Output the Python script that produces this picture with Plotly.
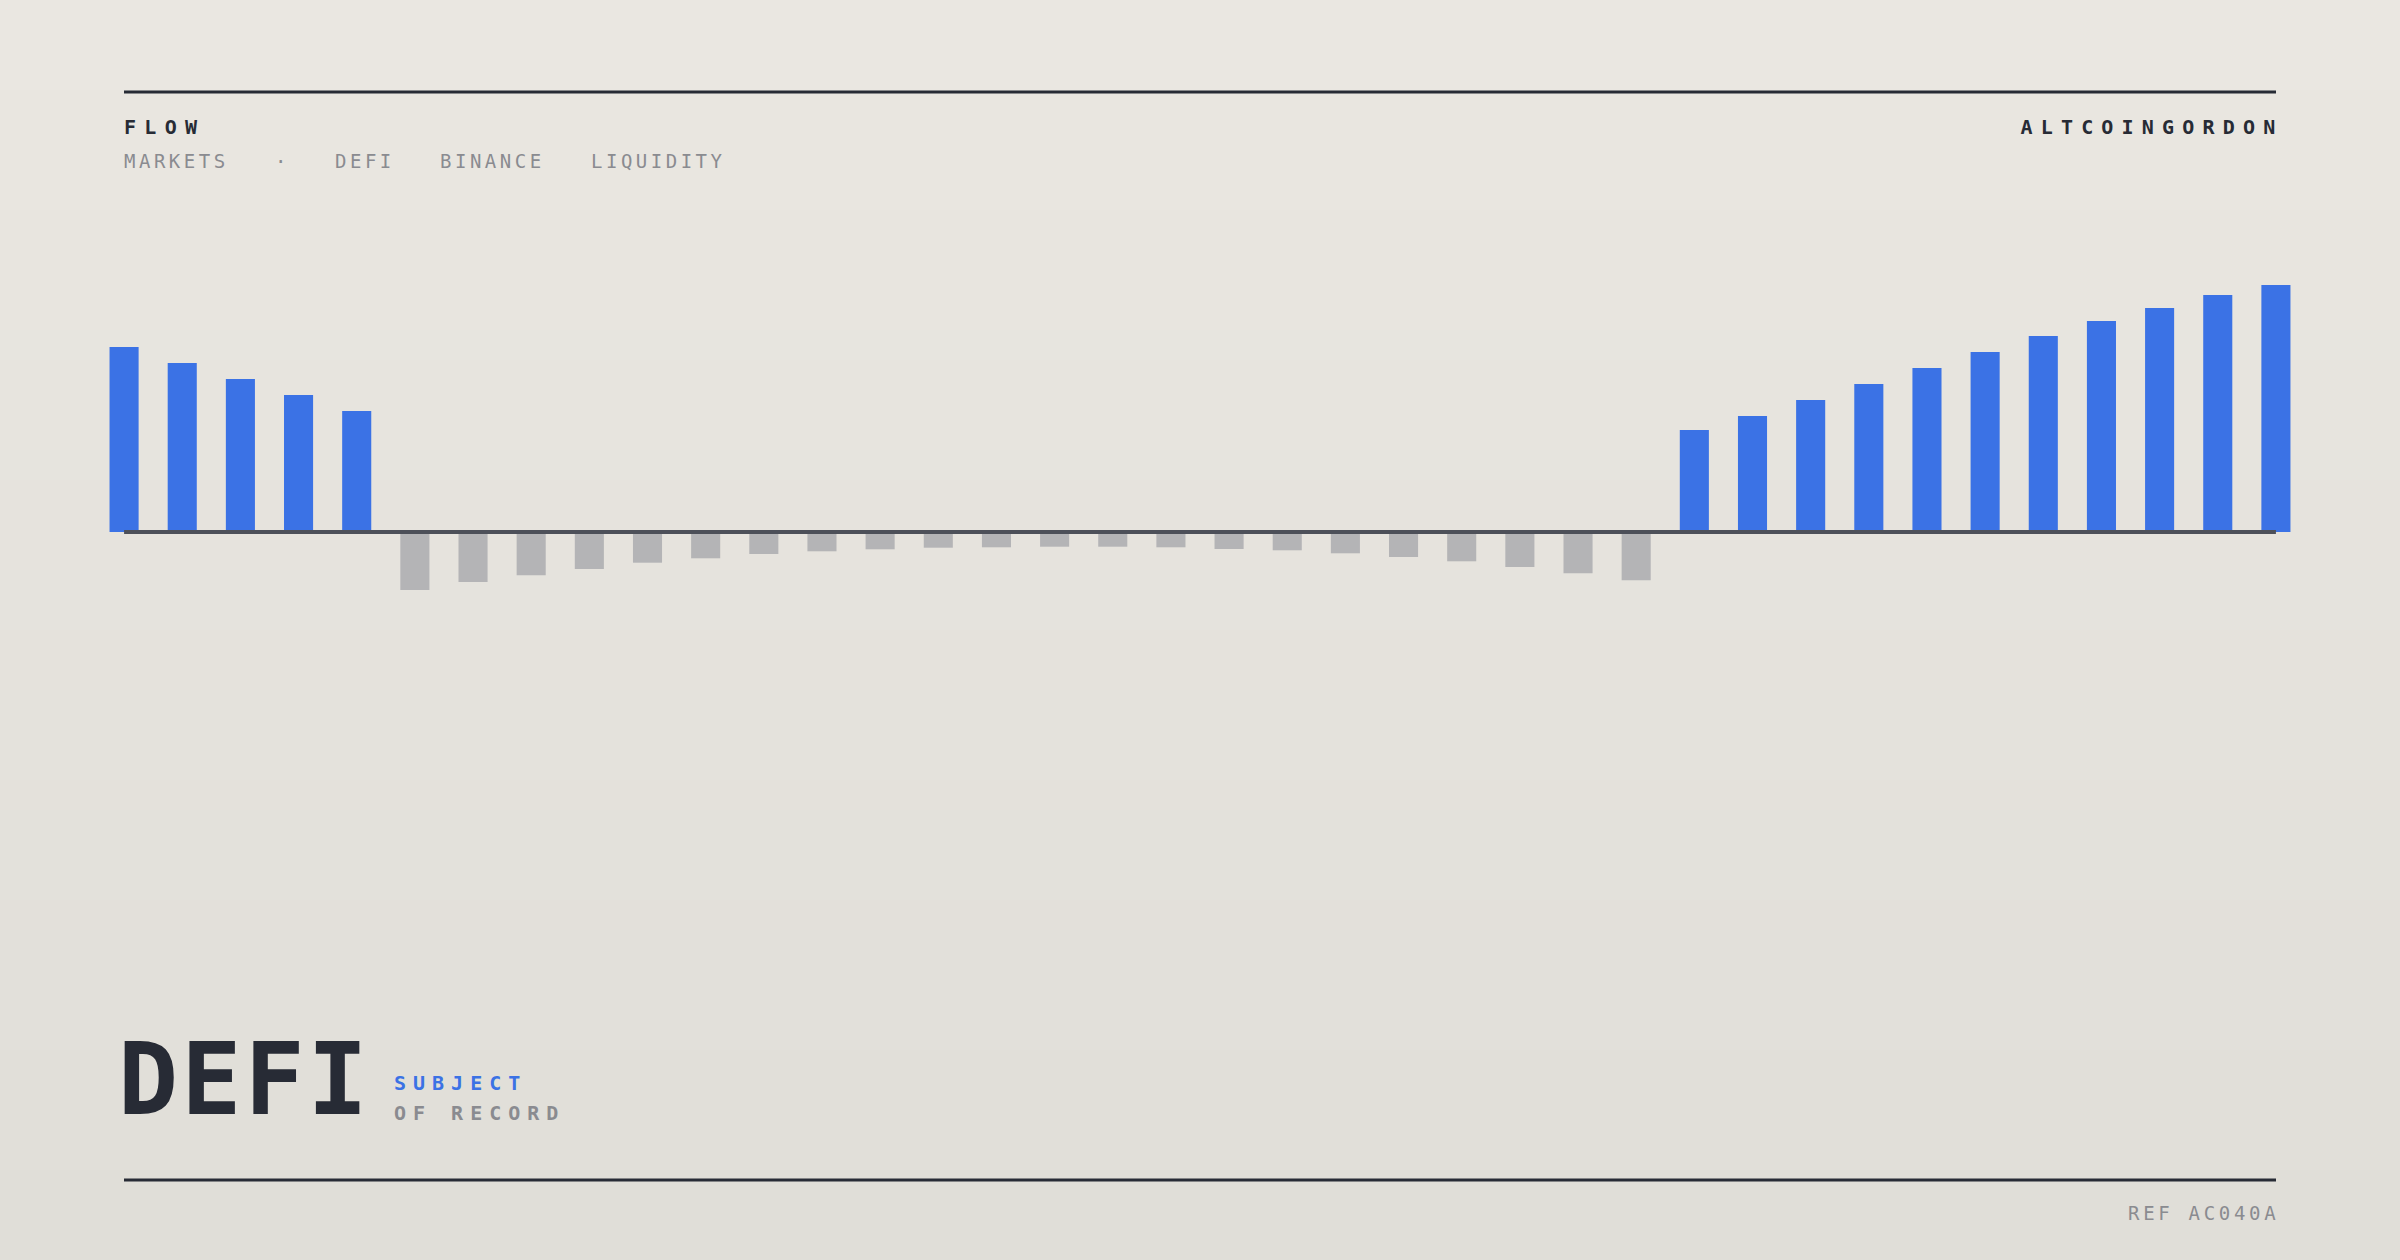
import plotly.graph_objects as go
import json

# ---------------- data ----------------
periods = list(range(38))
flow_values = [18.5, 16.9, 15.3, 13.7, 12.1,
               -5.80, -5.00, -4.33, -3.70, -3.07, -2.63, -2.20, -1.93, -1.73, -1.57, -1.53,
               -1.47, -1.47, -1.53, -1.70, -1.83, -2.13, -2.50, -2.93, -3.50, -4.13, -4.83,
               10.2, 11.6, 13.2, 14.8, 16.4, 18.0, 19.6, 21.1, 22.4, 23.7, 24.7]
tag_labels = ["MARKETS", "·", "DEFI", "BINANCE", "LIQUIDITY"]
tag_slots = [0, 10, 14, 21, 31]

# ---------------- geometry ----------------
W, H = 2400, 1260
ML, MR, MT, MB = 95, 95, 250, 310
PW, PH = W - ML - MR, H - MT - MB

def px2x(px):
    return (px - ML) / PW

def px2y(py):
    return (H - MB - py) / PH

POS = "#3b72e5"
NEG = "#b4b4b6"
DARK = "#272b35"
GREY = "#8a8b90"
MONO = "DejaVu Sans Mono, Liberation Mono, monospace"

colors = [POS if v >= 0 else NEG for v in flow_values]

fig = go.Figure(go.Bar(x=periods, y=flow_values, marker=dict(color=colors, line=dict(width=0)),
                       hoverinfo="x+y"))

shapes = []
# background gradient
top_rgb = (234, 231, 225)
bot_rgb = (224, 222, 216)
N = 42
for i in range(N):
    t = i / (N - 1)
    c = tuple(round(top_rgb[k] + (bot_rgb[k] - top_rgb[k]) * t) for k in range(3))
    y0 = i * H / N
    y1 = (i + 1) * H / N + 1
    shapes.append(dict(type="rect", xref="paper", yref="paper", layer="below",
                       x0=px2x(0), x1=px2x(W), y0=px2y(y1), y1=px2y(y0),
                       fillcolor="rgb(%d,%d,%d)" % c, line=dict(width=0)))
# rules
for ry in (92, 1180):
    shapes.append(dict(type="line", xref="paper", yref="paper", layer="above",
                       x0=px2x(124), x1=px2x(2276), y0=px2y(ry), y1=px2y(ry),
                       line=dict(color=DARK, width=3)))
# zero line
shapes.append(dict(type="line", xref="x", yref="y", layer="above",
                   x0=periods[0], x1=periods[-1], y0=0, y1=0,
                   line=dict(color="#4d5059", width=4)))

annotations = []
spacing = {}

def ann(text, px, py, size, color, bold=False, anchor="left", ls=0.0):
    idx = len(annotations)
    annotations.append(dict(
        text=text, xref="paper", yref="paper", x=px2x(px), y=px2y(py),
        xanchor=anchor, yanchor="middle", align=anchor, showarrow=False,
        borderpad=0, borderwidth=0, xshift=(ls if anchor == "right" else 0),
        font=dict(family=MONO, size=size, color=color, weight=700 if bold else 400)))
    if ls:
        spacing[str(idx)] = ls

ann("FLOW", 124, 127, 20, DARK, bold=True, ls=8.3)
ann("ALTCOINGORDON", 2276, 127, 20, DARK, bold=True, anchor="right", ls=8.2)
adv = 15.05
for lab, slot in zip(tag_labels, tag_slots):
    ann(lab, 124 + slot * adv, 161, 19, GREY, ls=3.5)
ann("DEFI", 118, 1079, 100, DARK, bold=True, ls=3)
ann("SUBJECT", 394, 1083, 20, POS, bold=True, ls=7)
ann("OF RECORD", 394, 1113, 20, GREY, bold=True, ls=7)
ann("REF AC040A", 2276, 1213, 19, GREY, anchor="right", ls=3.7)

fig.update_layout(
    width=W, height=H,
    margin=dict(l=ML, r=MR, t=MT, b=MB, pad=0),
    paper_bgcolor="#e5e3dd", plot_bgcolor="rgba(0,0,0,0)",
    bargap=0.5, showlegend=False,
    xaxis=dict(range=[-0.5, 37.5], visible=False, fixedrange=True),
    yaxis=dict(range=[-41.8, 28.2], visible=False, fixedrange=True, zeroline=False),
    shapes=shapes, annotations=annotations,
)

post = """
document.documentElement.style.margin = '0';
document.documentElement.style.padding = '0';
document.body.style.margin = '0';
document.body.style.padding = '0';
document.body.style.overflow = 'hidden';
document.body.style.background = '#e5e3dd';
var sp = %s;
var gd = document.getElementById('{plot_id}');
function applySp(){
  document.querySelectorAll('g.annotation').forEach(function(g){
    var i = g.getAttribute('data-index');
    if (sp[i] !== undefined) {
      var t = g.querySelector('text.annotation-text');
      if (t) { t.style.letterSpacing = sp[i] + 'px'; }
    }
  });
}
applySp();
if (gd && gd.on) { gd.on('plotly_afterplot', applySp); }
""" % json.dumps(spacing)

fig.write_html("out.html", post_script=post, config={"displayModeBar": False})
